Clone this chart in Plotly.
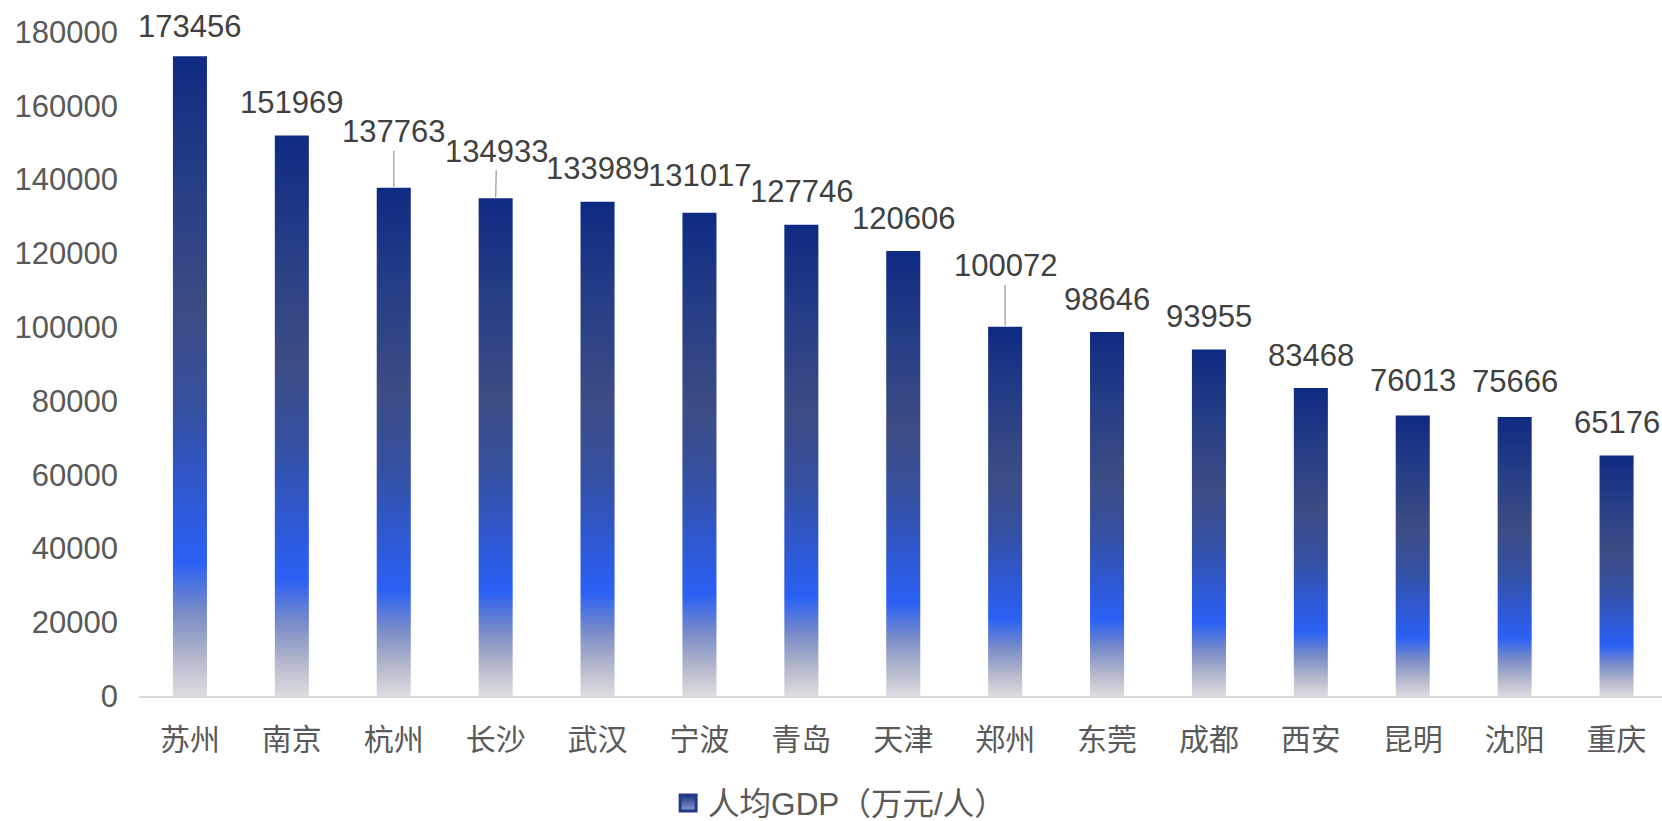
import plotly.graph_objects as go

cities = ["苏州", "南京", "杭州", "长沙", "武汉", "宁波", "青岛", "天津", "郑州", "东莞", "成都", "西安", "昆明", "沈阳", "重庆"]
gdp_per_capita = [173456, 151969, 137763, 134933, 133989, 131017, 127746, 120606, 100072, 98646, 93955, 83468, 76013, 75666, 65176]
y_ticks = [0, 20000, 40000, 60000, 80000, 100000, 120000, 140000, 160000, 180000]
series_name = "人均GDP（万元/人）"

# label placement (pixels)
leader = {2: (0, -56), 3: (1, -47), 8: (0, -61)}
label_shift = {0: 30, 1: 33, 5: 37, 12: 35, 13: 35}
default_shift = 33

grad = [[0.0, "#dcdce0"], [0.06, "#b4b8cc"], [0.13, "#7a8cc8"], [0.21, "#2a60f4"],
        [0.32, "#2f58d0"], [0.45, "#3550a0"], [0.6, "#3c4c84"], [0.8, "#263e86"], [1.0, "#0f2a82"]]

half_w = 0.167
FONT = "Liberation Sans, Arial, Noto Sans CJK SC, sans-serif"

fig = go.Figure()
for i, v in enumerate(gdp_per_capita):
    fig.add_trace(go.Scatter(
        x=[i - half_w, i + half_w, i + half_w, i - half_w, i - half_w],
        y=[0, 0, v, v, 0],
        mode="lines", line=dict(width=0, color="#1f3a8a"),
        fill="toself",
        fillgradient=dict(type="vertical", colorscale=grad),
        name=series_name, showlegend=False,
        hoverinfo="skip",
    ))

# legend entry
fig.add_trace(go.Scatter(
    x=[None], y=[None], mode="markers", name=series_name,
    marker=dict(symbol="square", size=16, color="#1c3584",
                gradient=dict(type="vertical", color="#8c9ad0"),
                line=dict(width=3, color="#22398a")),
    showlegend=True,
))

for i, v in enumerate(gdp_per_capita):
    if i in leader:
        ax, ay = leader[i]
        fig.add_annotation(x=i, y=v, text=str(v), showarrow=True, arrowhead=0,
                           arrowcolor="#a6a6a6", arrowwidth=1.4, ax=ax, ay=ay, standoff=1,
                           font=dict(size=31, color="#404040", family=FONT))
    else:
        fig.add_annotation(x=i, y=v, text=str(v), showarrow=False,
                           yshift=label_shift.get(i, default_shift),
                           font=dict(size=31, color="#404040", family=FONT))

fig.update_layout(
    width=1662, height=821,
    margin=dict(l=139, r=0, t=32, b=125),
    plot_bgcolor="white", paper_bgcolor="white",
    font=dict(family=FONT, color="#595959", size=30),
    showlegend=True,
    legend=dict(orientation="h", xref="container", x=0.402, xanchor="left",
                yref="container", y=0.022, yanchor="middle",
                font=dict(size=31.5, color="#595959", family=FONT)),
    xaxis=dict(range=[-0.5, 14.446], tickmode="array", tickvals=list(range(len(cities))),
               ticktext=cities, showgrid=False, zeroline=False, showline=True,
               linecolor="#d9d9d9", linewidth=2, ticks="", ticklabelstandoff=16,
               tickfont=dict(size=30, color="#595959")),
    yaxis=dict(range=[0, 180000], tickmode="array", tickvals=y_ticks,
               ticktext=[str(t) for t in y_ticks], showgrid=False, zeroline=False,
               showline=False, ticks="", ticklabelstandoff=20,
               tickfont=dict(size=31, color="#595959")),
)

fig.write_html("out.html", config={"displayModeBar": False},
               post_script="document.body.style.margin='0';document.body.style.overflow='hidden';")
